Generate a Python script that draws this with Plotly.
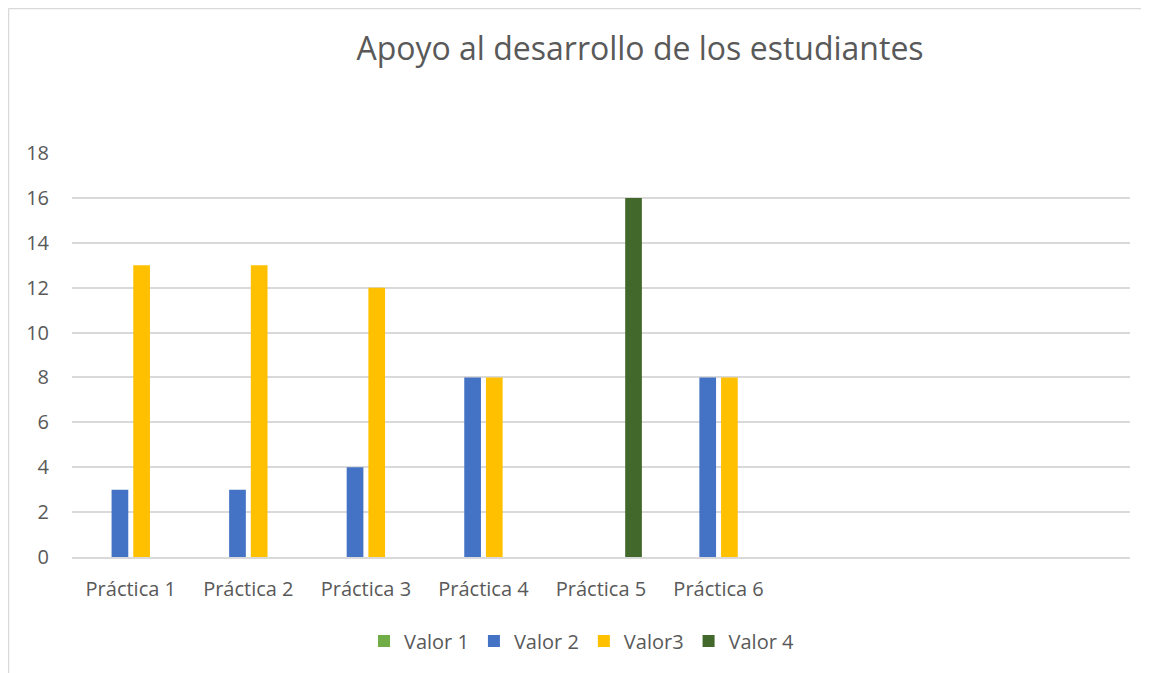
import plotly.graph_objects as go

categories = ["Práctica 1", "Práctica 2", "Práctica 3", "Práctica 4", "Práctica 5", "Práctica 6"]
valor1 = [None, None, None, None, None, None]
valor2 = [3, 3, 4, 8, None, 8]
valor3 = [13, 13, 12, 8, None, 8]
valor4 = [None, None, None, None, 16, None]
series_names = ["Valor 1", "Valor 2", "Valor3", "Valor 4"]
series_colors = ["#70ad47", "#4472c4", "#ffc000", "#43682b"]
yticks = [0, 2, 4, 6, 8, 10, 12, 14, 16, 18]

# figure sits at page offset (8, 8) because of the body margin
W, H = 1141, 665
L, R, T, B = 64, 19, 145, 116
FONT = "Open Sans"
GREY = "#595959"

fig = go.Figure()
for name, vals, col in zip(series_names, [valor1, valor2, valor3, valor4], series_colors):
    fig.add_trace(go.Bar(x=categories, y=vals, name=name, marker_color=col,
                         marker_line_width=0))

pw = W - L - R
ph = H - T - B
fig.update_layout(
    width=W, height=H,
    margin=dict(l=L, r=R, t=T, b=B, pad=0, autoexpand=False),
    paper_bgcolor="white", plot_bgcolor="white",
    barmode="group", bargap=0.262, bargroupgap=0.23,
    font=dict(family=FONT, color=GREY, size=20),
    title=dict(text="Apoyo al desarrollo de los estudiantes",
               x=632 / W, xref="container", xanchor="center",
               y=1 - 41 / H, yref="container", yanchor="middle",
               font=dict(family=FONT, size=32, color=GREY)),
    showlegend=True,
    legend=dict(orientation="h", x=(574 - L) / pw, xanchor="center",
                y=(T + ph - 633) / ph, yanchor="middle",
                font=dict(family=FONT, size=20, color=GREY),
                itemwidth=30, traceorder="normal"),
    xaxis=dict(type="category", categoryorder="array", categoryarray=categories,
               range=[-0.5, 8.5], showgrid=False, showline=True,
               linecolor="#d9d9d9", linewidth=1.5, ticks="",
               tickfont=dict(family=FONT, size=20, color=GREY),
               ticklabelstandoff=13, zeroline=False, automargin=False),
    yaxis=dict(range=[0, 18], tickvals=yticks, showgrid=True,
               gridcolor="#d9d9d9", gridwidth=1.5, zeroline=False,
               showline=False, ticks="",
               tickfont=dict(family=FONT, size=20, color=GREY),
               ticklabelstandoff=22, automargin=False),
    shapes=[
        dict(type="line", xref="paper", yref="paper",
             x0=(0.5 - L) / pw, x1=(0.5 - L) / pw,
             y0=(T + ph - H) / ph, y1=(T + ph - 0.5) / ph,
             line=dict(color="#d9d9d9", width=1.5), layer="below"),
        dict(type="line", xref="paper", yref="paper",
             x0=(0.5 - L) / pw, x1=(W - L) / pw,
             y0=(T + ph - 0.5) / ph, y1=(T + ph - 0.5) / ph,
             line=dict(color="#d9d9d9", width=1.5), layer="below"),
    ],
)
fig.write_html("out.html")
